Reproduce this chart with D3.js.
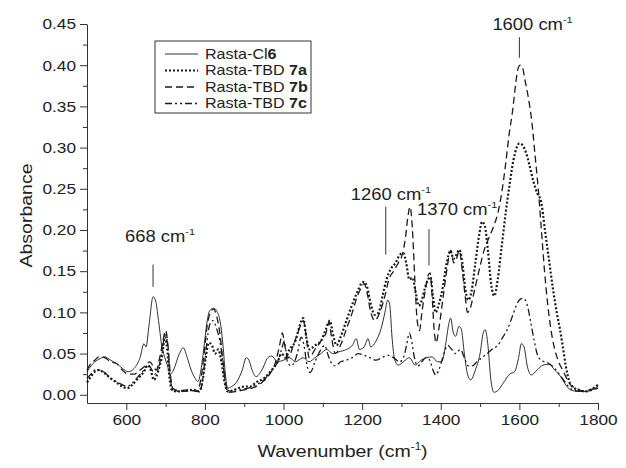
<!DOCTYPE html>
<html lang="en">
<head>
<meta charset="UTF-8">
<title>FTIR spectra of Rasta resins</title>
<style>
body { margin: 0; background: #fff; }
svg text { font-family: "Liberation Sans", Arial, sans-serif; fill: #222; }
.axis path, .axis line { stroke: #333; }
</style>
</head>
<body>
<svg width="626" height="468"></svg>
<script src="https://d3js.org/d3.v7.min.js"></script>
<script>

// [wavenumber, absorbance]
var cl6 = [[500,0.028],[510,0.035],[520,0.040],[530,0.043],[545,0.046],[560,0.042],[575,0.038],[590,0.032],[605,0.028],[620,0.032],[635,0.045],[645,0.062],[650,0.058],[658,0.085],[668,0.119],[674,0.115],[682,0.09],[690,0.06],[698,0.045],[705,0.035],[712,0.025],[720,0.03],[735,0.05],[745,0.057],[755,0.045],[765,0.03],[775,0.02],[782,0.016],[790,0.03],[798,0.06],[806,0.09],[812,0.102],[822,0.105],[832,0.1],[840,0.085],[846,0.06],[852,0.025],[858,0.008],[868,0.01],[880,0.015],[895,0.03],[905,0.045],[912,0.042],[920,0.03],[930,0.022],[945,0.03],[960,0.045],[970,0.047],[985,0.04],[1000,0.042],[1015,0.045],[1030,0.04],[1050,0.045],[1065,0.04],[1080,0.045],[1095,0.05],[1110,0.055],[1125,0.05],[1140,0.052],[1160,0.055],[1175,0.06],[1185,0.068],[1193,0.055],[1205,0.058],[1215,0.068],[1222,0.058],[1235,0.065],[1248,0.08],[1258,0.1],[1265,0.115],[1270,0.11],[1276,0.07],[1283,0.042],[1292,0.036],[1305,0.04],[1320,0.045],[1335,0.036],[1350,0.042],[1365,0.045],[1378,0.046],[1392,0.04],[1402,0.04],[1412,0.06],[1420,0.085],[1425,0.093],[1432,0.075],[1438,0.071],[1446,0.083],[1452,0.08],[1460,0.05],[1468,0.025],[1476,0.018],[1488,0.03],[1500,0.05],[1508,0.075],[1513,0.079],[1520,0.06],[1527,0.02],[1535,0.003],[1545,0.005],[1560,0.015],[1575,0.025],[1588,0.028],[1598,0.045],[1605,0.062],[1612,0.058],[1620,0.035],[1630,0.024],[1645,0.03],[1660,0.036],[1675,0.037],[1690,0.03],[1705,0.022],[1718,0.012],[1730,0.006],[1750,0.004],[1770,0.004],[1785,0.006],[1800,0.01]];

var tbd7a = [[500,0.015],[510,0.022],[520,0.028],[530,0.03],[545,0.026],[560,0.02],[575,0.015],[590,0.01],[602,0.008],[615,0.012],[630,0.02],[645,0.028],[655,0.036],[662,0.03],[670,0.018],[676,0.022],[685,0.035],[692,0.05],[698,0.07],[703,0.06],[710,0.02],[716,0.006],[730,0.004],[750,0.005],[770,0.006],[785,0.004],[795,0.02],[802,0.045],[810,0.063],[818,0.06],[826,0.05],[834,0.055],[842,0.04],[850,0.015],[858,0.004],[870,0.005],[885,0.008],[900,0.01],[915,0.01],[930,0.015],[950,0.02],[970,0.03],[985,0.04],[995,0.05],[1005,0.045],[1015,0.055],[1030,0.065],[1042,0.085],[1050,0.093],[1058,0.07],[1066,0.055],[1080,0.06],[1095,0.065],[1108,0.08],[1118,0.09],[1125,0.075],[1135,0.06],[1145,0.07],[1160,0.09],[1175,0.11],[1188,0.125],[1198,0.135],[1205,0.137],[1213,0.13],[1222,0.11],[1232,0.097],[1242,0.1],[1252,0.12],[1262,0.14],[1272,0.152],[1285,0.16],[1296,0.17],[1305,0.172],[1312,0.16],[1320,0.14],[1328,0.142],[1336,0.125],[1344,0.108],[1352,0.115],[1360,0.13],[1368,0.14],[1374,0.143],[1380,0.12],[1387,0.1],[1395,0.11],[1405,0.13],[1415,0.16],[1425,0.175],[1432,0.165],[1440,0.17],[1447,0.176],[1455,0.16],[1462,0.13],[1470,0.115],[1478,0.125],[1488,0.16],[1498,0.195],[1505,0.21],[1512,0.205],[1520,0.175],[1528,0.135],[1536,0.12],[1545,0.14],[1555,0.18],[1565,0.22],[1575,0.255],[1585,0.285],[1593,0.3],[1600,0.305],[1608,0.303],[1616,0.295],[1625,0.28],[1635,0.26],[1645,0.245],[1655,0.235],[1665,0.2],[1675,0.165],[1685,0.13],[1695,0.1],[1703,0.08],[1710,0.06],[1718,0.035],[1728,0.015],[1740,0.008],[1755,0.005],[1770,0.004],[1785,0.007],[1800,0.012]];

var tbd7b = [[500,0.03],[510,0.038],[520,0.042],[530,0.046],[545,0.045],[560,0.04],[575,0.038],[590,0.03],[605,0.025],[620,0.025],[635,0.03],[648,0.035],[660,0.04],[668,0.035],[676,0.03],[685,0.045],[693,0.065],[700,0.078],[706,0.06],[712,0.025],[718,0.008],[735,0.005],[760,0.006],[780,0.004],[790,0.02],[798,0.05],[806,0.085],[814,0.1],[822,0.104],[830,0.095],[838,0.075],[846,0.04],[854,0.01],[862,0.003],[880,0.004],[900,0.006],[920,0.008],[945,0.015],[965,0.025],[980,0.04],[990,0.06],[997,0.075],[1003,0.06],[1012,0.045],[1025,0.06],[1040,0.08],[1050,0.09],[1058,0.07],[1065,0.045],[1080,0.055],[1095,0.065],[1108,0.075],[1116,0.088],[1122,0.07],[1132,0.05],[1145,0.06],[1160,0.08],[1175,0.1],[1188,0.12],[1198,0.13],[1205,0.135],[1212,0.125],[1222,0.1],[1232,0.09],[1245,0.1],[1258,0.12],[1268,0.14],[1280,0.15],[1292,0.16],[1302,0.17],[1310,0.19],[1316,0.215],[1322,0.228],[1328,0.2],[1334,0.14],[1340,0.09],[1346,0.078],[1352,0.1],[1360,0.125],[1368,0.145],[1373,0.148],[1378,0.12],[1383,0.08],[1388,0.063],[1395,0.08],[1405,0.115],[1415,0.15],[1425,0.175],[1433,0.16],[1440,0.165],[1447,0.175],[1455,0.15],[1462,0.12],[1468,0.1],[1475,0.105],[1485,0.125],[1497,0.15],[1510,0.175],[1522,0.19],[1535,0.205],[1545,0.22],[1555,0.245],[1565,0.28],[1575,0.32],[1582,0.342],[1590,0.375],[1596,0.395],[1602,0.4],[1608,0.397],[1615,0.38],[1623,0.36],[1632,0.33],[1640,0.29],[1648,0.25],[1656,0.2],[1664,0.15],[1672,0.11],[1680,0.08],[1690,0.055],[1700,0.04],[1710,0.03],[1720,0.02],[1730,0.012],[1745,0.008],[1760,0.005],[1780,0.006],[1800,0.01]];

var tbd7c = [[500,0.02],[510,0.025],[520,0.03],[530,0.03],[545,0.027],[560,0.02],[575,0.016],[590,0.012],[602,0.01],[615,0.014],[630,0.022],[645,0.03],[655,0.036],[663,0.032],[672,0.025],[680,0.03],[688,0.045],[695,0.065],[700,0.075],[706,0.055],[712,0.02],[718,0.006],[740,0.004],[770,0.005],[788,0.005],[796,0.025],[804,0.06],[812,0.085],[820,0.09],[830,0.08],[840,0.06],[848,0.03],[856,0.006],[870,0.004],[890,0.006],[910,0.008],[930,0.012],[950,0.018],[970,0.03],[985,0.04],[995,0.055],[1002,0.065],[1010,0.04],[1020,0.035],[1035,0.05],[1045,0.07],[1052,0.06],[1060,0.035],[1068,0.027],[1080,0.04],[1095,0.055],[1105,0.06],[1112,0.05],[1120,0.04],[1132,0.035],[1145,0.04],[1160,0.042],[1175,0.045],[1190,0.05],[1205,0.048],[1220,0.045],[1235,0.042],[1250,0.045],[1265,0.048],[1280,0.045],[1295,0.04],[1305,0.045],[1313,0.06],[1320,0.075],[1326,0.065],[1333,0.045],[1342,0.035],[1352,0.04],[1362,0.045],[1372,0.042],[1380,0.03],[1387,0.024],[1395,0.03],[1405,0.045],[1418,0.06],[1428,0.055],[1438,0.05],[1450,0.055],[1460,0.045],[1470,0.035],[1480,0.035],[1492,0.04],[1505,0.045],[1518,0.05],[1530,0.055],[1545,0.06],[1558,0.07],[1570,0.08],[1582,0.095],[1592,0.108],[1600,0.115],[1608,0.117],[1615,0.115],[1622,0.105],[1630,0.085],[1638,0.065],[1645,0.05],[1655,0.042],[1665,0.04],[1675,0.038],[1688,0.033],[1700,0.026],[1712,0.018],[1725,0.01],[1740,0.005],[1760,0.004],[1780,0.005],[1800,0.008]];

var seriesNames = ["Rasta-Cl", "Rasta-TBD ", "Rasta-TBD ", "Rasta-TBD "];
var seriesBold = ["6", "7a", "7b", "7c"];
var peaks = [668, 1260, 1370, 1600];
var xTicks = [600, 800, 1000, 1200, 1400, 1600, 1800];
var yTicks = [0, 0.05, 0.10, 0.15, 0.20, 0.25, 0.30, 0.35, 0.40, 0.45];

var svg = d3.select("svg"),
    margin = {top: 24, right: 28, bottom: 65, left: 87},
    width = +svg.attr("width") - margin.left - margin.right,
    height = +svg.attr("height") - margin.top - margin.bottom,
    g = svg.append("g").attr("transform", "translate(" + margin.left + "," + margin.top + ")");

var sx = 1.15; // the original lettering is a little wider than Arial

var x = d3.scaleLinear().domain([500, 1800]).range([0, width]);
var y = d3.scaleLinear().domain([-0.01, 0.45]).range([height, 0]);

// axes
var xa = g.append("g")
    .attr("class", "axis")
    .attr("transform", "translate(0," + height + ")")
    .call(d3.axisBottom(x).tickValues(xTicks).tickSize(7).tickSizeOuter(0).tickPadding(4).tickFormat(d3.format("d")));
xa.selectAll("text")
    .attr("font-size", 15)
    .attr("transform", "scale(" + sx + ",1)");

g.append("g")
    .attr("class", "axis")
    .attr("transform", "translate(0," + height + ")")
    .call(d3.axisBottom(x).tickValues(d3.range(700, 1800, 200)).tickSize(4).tickFormat(""))
    .select(".domain").remove();

var ya = g.append("g")
    .attr("class", "axis")
    .call(d3.axisLeft(y).tickValues(yTicks).tickSize(7).tickSizeOuter(0).tickFormat(d3.format(".2f")));
ya.selectAll("text")
    .attr("font-size", 15)
    .attr("x", -11 / sx)
    .attr("transform", "scale(" + sx + ",1)");

g.append("g")
    .attr("class", "axis")
    .call(d3.axisLeft(y).tickValues(d3.range(0.025, 0.45, 0.05)).tickSize(4).tickFormat(""))
    .select(".domain").remove();

// axis titles
var xt = svg.append("text")
    .attr("transform", "translate(" + (margin.left + width / 2) + ",457) scale(" + sx + ",1)")
    .attr("text-anchor", "middle")
    .attr("font-size", 17);
xt.append("tspan").text("Wavenumber (cm");
xt.append("tspan").attr("dy", -7).attr("font-size", 10).text("-1");
xt.append("tspan").attr("dy", 7).text(")");

svg.append("text")
    .attr("transform", "translate(32," + (margin.top + height / 2 + 2) + ") rotate(-90) scale(" + sx + ",1)")
    .attr("text-anchor", "middle")
    .attr("font-size", 17)
    .text("Absorbance");

// spectra
var styles = [
  {w: 0.9, dash: null},
  {w: 2.2, dash: "2,2"},
  {w: 1.3, dash: "7,4"},
  {w: 1.3, dash: "7,3,2,3,2,3"}
];

var line = d3.line()
    .x(function(d) { return x(d[0]); })
    .y(function(d) { return y(d[1]); })
    .curve(d3.curveMonotoneX);

[cl6, tbd7a, tbd7b, tbd7c].forEach(function(data, i) {
  g.append("path")
      .datum(data)
      .attr("fill", "none")
      .attr("stroke", "#1a1a1a")
      .attr("stroke-width", styles[i].w)
      .attr("stroke-dasharray", styles[i].dash)
      .attr("d", line);
});

// peak markers: [tick top, tick bottom] in absorbance, label offset
var marks = [
  {top: 0.158, bot: 0.131, dx: -28, ly: 0.185},
  {top: 0.228, bot: 0.170, dx: -35, ly: 0.236},
  {top: 0.201, bot: 0.157, dx: -12, ly: 0.218},
  {top: 0.434, bot: 0.409, dx: -27, ly: 0.443}
];

peaks.forEach(function(p, i) {
  var m = marks[i];
  g.append("line")
      .attr("x1", x(p)).attr("x2", x(p))
      .attr("y1", y(m.top)).attr("y2", y(m.bot))
      .attr("stroke", "#333")
      .attr("stroke-width", 1);
  var t = g.append("text")
      .attr("transform", "translate(" + (x(p) + m.dx) + "," + y(m.ly) + ") scale(" + sx + ",1)")
      .attr("font-size", 16);
  t.append("tspan").text(p + " cm");
  t.append("tspan").attr("dy", -7).attr("font-size", 9.5).text("-1");
});

// legend
var legend = svg.append("g").attr("transform", "translate(155,41)");

legend.append("rect")
    .attr("width", 156)
    .attr("height", 72)
    .attr("fill", "#fff")
    .attr("stroke", "#333")
    .attr("stroke-width", 1);

var rows = legend.selectAll("g.row")
    .data(seriesNames)
    .enter().append("g")
      .attr("class", "row")
      .attr("transform", function(d, i) { return "translate(0," + (13 + i * 16.5) + ")"; });

rows.append("line")
    .attr("x1", 10).attr("x2", 43)
    .attr("stroke", "#1a1a1a")
    .attr("stroke-width", function(d, i) { return styles[i].w; })
    .attr("stroke-dasharray", function(d, i) { return styles[i].dash; });

var lt = rows.append("text")
    .attr("transform", "translate(50,0) scale(" + sx + ",1)")
    .attr("dy", "0.35em")
    .attr("font-size", 14);
lt.append("tspan").text(function(d) { return d; });
lt.append("tspan").attr("font-weight", "bold").text(function(d, i) { return seriesBold[i]; });

</script>
</body>
</html>
